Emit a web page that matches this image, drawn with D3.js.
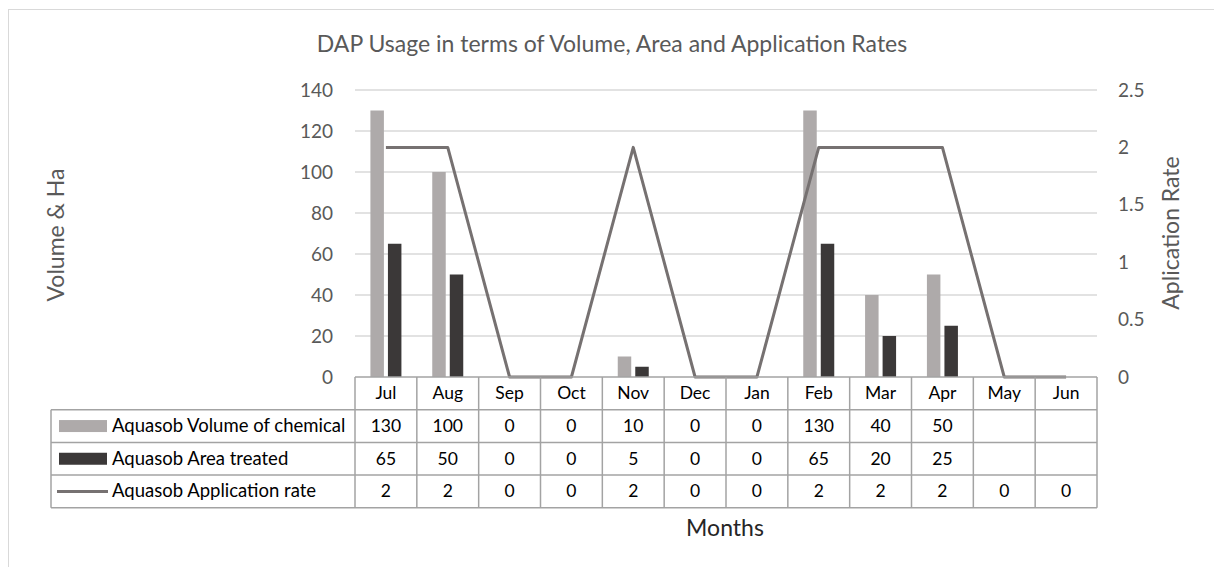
<!DOCTYPE html>
<html>
<head>
<meta charset="utf-8">
<script src="https://cdn.jsdelivr.net/npm/d3@7/dist/d3.min.js"></script>
<style>
  body { margin: 0; background: #fff; }
  svg { display: block; font-family: Lato, sans-serif; }
</style>
</head>
<body>
<svg></svg>
<script>
// chart data
const months = ['Jul', 'Aug', 'Sep', 'Oct', 'Nov', 'Dec', 'Jan', 'Feb', 'Mar', 'Apr', 'May', 'Jun'];
const volume = [130, 100, 0, 0, 10, 0, 0, 130, 40, 50, null, null];
const area = [65, 50, 0, 0, 5, 0, 0, 65, 20, 25, null, null];
const rate = [2, 2, 0, 0, 2, 0, 0, 2, 2, 2, 0, 0];
const leftTicks = [0, 20, 40, 60, 80, 100, 120, 140];
const rightTicks = [0, 0.5, 1, 1.5, 2, 2.5];
const seriesNames = ['Aquasob Volume of chemical', 'Aquasob Area treated', 'Aquasob Application rate'];

const width = 1214, height = 567;
const colVol = '#aeaaaa', colArea = '#3b3838', colRate = '#767171';
const gridCol = '#d9d9d9', tableCol = '#a3a3a3';

const svg = d3.select('svg').attr('width', width).attr('height', height);

// outer chart border (runs off the right/bottom edge)
svg.append('rect')
   .attr('x', 8.5).attr('y', 9.5)
   .attr('width', 1300).attr('height', 700)
   .attr('fill', 'none').attr('stroke', gridCol);

// scales
const plotLeft = 355, plotRight = 1097, plotTop = 90, plotBottom = 377;
const x = d3.scaleBand().domain(months).range([plotLeft, plotRight]);
const xs = d3.scaleBand().domain(['vol', 'area']).range([-15.5, 15.5]).paddingInner(0.23);
const yL = d3.scaleLinear().domain([0, 140]).range([plotBottom, plotTop]);
const yR = d3.scaleLinear().domain([0, 2.5]).range([plotBottom, plotTop]);

// gridlines
svg.append('g').selectAll('line')
   .data(leftTicks.filter(d => d > 0))
   .join('line')
   .attr('x1', plotLeft).attr('x2', plotRight)
   .attr('y1', d => yL(d)).attr('y2', d => yL(d))
   .attr('stroke', gridCol).attr('stroke-width', 1.3);

// left axis labels
const yAxisL = d3.axisLeft(yL).tickValues(leftTicks).tickSize(0).tickPadding(22);
svg.append('g')
   .attr('transform', `translate(${plotLeft},0)`)
   .call(yAxisL)
   .call(g => g.select('.domain').remove())
   .call(g => g.selectAll('text').attr('fill', '#595959').attr('font-size', 19).attr('font-family', 'Lato, sans-serif'));

// right axis labels
const yAxisR = d3.axisRight(yR).tickValues(rightTicks).tickFormat(d => d).tickSize(0).tickPadding(21);
svg.append('g')
   .attr('transform', `translate(${plotRight},0)`)
   .call(yAxisR)
   .call(g => g.select('.domain').remove())
   .call(g => g.selectAll('text').attr('fill', '#595959').attr('font-size', 19).attr('font-family', 'Lato, sans-serif'));

// bars
const bars = svg.append('g');
bars.selectAll('.vol')
    .data(months.map((m, i) => ({ m, v: volume[i] })).filter(d => d.v !== null))
    .join('rect')
    .attr('class', 'vol')
    .attr('x', d => x(d.m) + x.bandwidth() / 2 + xs('vol'))
    .attr('width', xs.bandwidth())
    .attr('y', d => yL(d.v))
    .attr('height', d => yL(0) - yL(d.v))
    .attr('fill', colVol);

bars.selectAll('.area')
    .data(months.map((m, i) => ({ m, v: area[i] })).filter(d => d.v !== null))
    .join('rect')
    .attr('class', 'area')
    .attr('x', d => x(d.m) + x.bandwidth() / 2 + xs('area'))
    .attr('width', xs.bandwidth())
    .attr('y', d => yL(d.v))
    .attr('height', d => yL(0) - yL(d.v))
    .attr('fill', colArea);

// application rate line (secondary axis)
const line = d3.line()
    .x((d, i) => x(months[i]) + x.bandwidth() / 2)
    .y(d => yR(d));

svg.append('path')
   .attr('d', line(rate))
   .attr('fill', 'none')
   .attr('stroke', colRate)
   .attr('stroke-width', 3)
   .attr('stroke-linejoin', 'round');

// data table under the plot
const tableLeft = 51, rowH = 32.7;
const rowY = i => plotBottom + rowH * i;  // 0 = header top
const baseY = i => rowY(i) + rowH * 0.68; // text baseline in row i
const table = svg.append('g');
const tableRows = [volume, area, rate];

// horizontal lines
table.append('line')
     .attr('x1', plotLeft).attr('x2', plotRight)
     .attr('y1', rowY(0)).attr('y2', rowY(0))
     .attr('stroke', tableCol).attr('stroke-width', 1.5);
table.selectAll('.hrow')
     .data([1, 2, 3, 4])
     .join('line')
     .attr('x1', tableLeft).attr('x2', plotRight)
     .attr('y1', d => rowY(d)).attr('y2', d => rowY(d))
     .attr('stroke', tableCol).attr('stroke-width', 1.5);

// vertical lines
table.selectAll('.vcol')
     .data(months.map(m => x(m)).concat([plotRight]))
     .join('line')
     .attr('x1', d => d).attr('x2', d => d)
     .attr('y1', rowY(0)).attr('y2', rowY(4))
     .attr('stroke', tableCol).attr('stroke-width', 1.5);
table.append('line')
     .attr('x1', tableLeft).attr('x2', tableLeft)
     .attr('y1', rowY(1)).attr('y2', rowY(4))
     .attr('stroke', tableCol).attr('stroke-width', 1.5);

// month header
table.selectAll('.mlab')
     .data(months)
     .join('text')
     .attr('x', d => x(d) + x.bandwidth() / 2)
     .attr('y', baseY(0))
     .attr('text-anchor', 'middle')
     .attr('font-size', 17.5)
     .attr('fill', '#000')
     .text(d => d);

// values
tableRows.forEach((vals, r) => {
  table.selectAll('.val' + r)
       .data(vals)
       .join('text')
       .attr('x', (d, i) => x(months[i]) + x.bandwidth() / 2)
       .attr('y', baseY(r + 1))
       .attr('text-anchor', 'middle')
       .attr('font-size', 17.5)
       .attr('fill', '#000')
       .text(d => d === null ? '' : d);
});

// legend keys + series names
const keys = table.append('g');
keys.append('rect')
    .attr('x', 59).attr('width', 48)
    .attr('y', rowY(1.5) - 6).attr('height', 12)
    .attr('fill', colVol);
keys.append('rect')
    .attr('x', 59).attr('width', 48)
    .attr('y', rowY(2.5) - 6).attr('height', 12)
    .attr('fill', colArea);
keys.append('line')
    .attr('x1', 57).attr('x2', 108)
    .attr('y1', rowY(3.5)).attr('y2', rowY(3.5))
    .attr('stroke', colRate).attr('stroke-width', 3);
keys.selectAll('text')
    .data(seriesNames)
    .join('text')
    .attr('x', 112)
    .attr('y', (d, i) => baseY(i + 1))
    .attr('font-size', 18.5)
    .attr('fill', '#000')
    .text(d => d);

// titles
svg.append('text')
   .attr('x', 612).attr('y', 52)
   .attr('text-anchor', 'middle')
   .attr('font-size', 23)
   .attr('fill', '#595959')
   .text('DAP Usage in terms of Volume, Area and Application Rates');

svg.append('text')
   .attr('transform', 'translate(55,235) rotate(-90)')
   .attr('text-anchor', 'middle')
   .attr('dominant-baseline', 'central')
   .attr('font-size', 23)
   .attr('fill', '#595959')
   .text('Volume & Ha');

svg.append('text')
   .attr('transform', 'translate(1170,233) rotate(-90)')
   .attr('text-anchor', 'middle')
   .attr('dominant-baseline', 'central')
   .attr('font-size', 23)
   .attr('fill', '#595959')
   .text('Aplication Rate');

svg.append('text')
   .attr('x', 725).attr('y', 536)
   .attr('text-anchor', 'middle')
   .attr('font-size', 23)
   .attr('fill', '#262626')
   .text('Months');
</script>
</body>
</html>
